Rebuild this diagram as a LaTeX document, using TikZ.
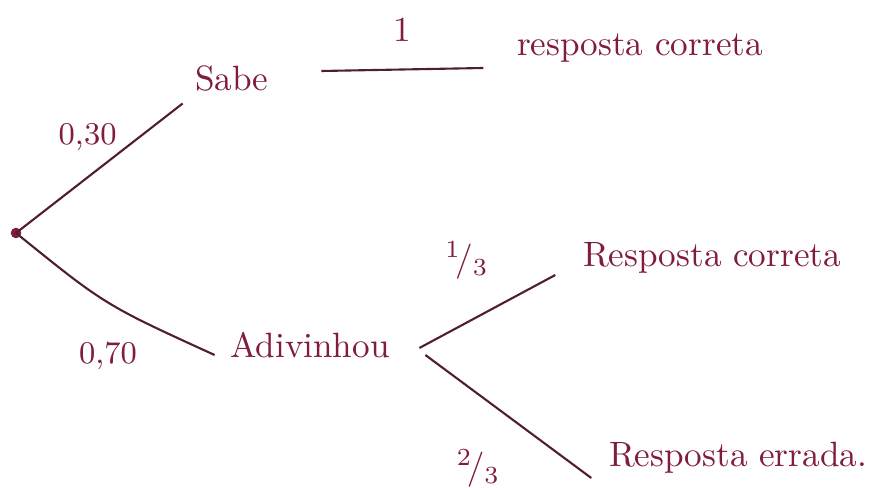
\documentclass[tikz,border=0pt]{standalone}
\usetikzlibrary{positioning}
\definecolor{tinta}{RGB}{128,28,62}
\definecolor{traco}{RGB}{80,30,45}
\begin{document}
\begin{tikzpicture}[x=0.01cm,y=-0.01cm,
  rotulo/.style={text=tinta,inner sep=2pt},
  prob/.style={text=tinta,font=\small},
  ramo/.style={draw=traco,line width=0.6pt}]
\useasboundingbox (0,0) rectangle (887,488);
\coordinate (O) at (16,233);
\fill[tinta] (O) circle (1.5pt);
\node[rotulo] (sabe) at (232,78) {Sabe};
\node[rotulo] (rc1) at (640,48) {resposta correta};
\node[rotulo] (adiv) at (310,345) {Adivinhou};
\node[rotulo] (rc2) at (712,258) {Resposta correta};
\node[rotulo] (re) at (738,458) {Resposta errada.};
\draw[ramo] (O) -- ([shift={(-5,5)}]sabe.south west) node[prob,midway,above left=0.05cm and -0.3cm]{0,30};
\draw[ramo] ([shift={(45,-7)}]sabe.east) -- ([shift={(-26,20)}]rc1.west) node[rotulo,midway,above=0.2cm]{1};
\draw[ramo] (O) .. controls (105,305) .. ([shift={(-8,10)}]adiv.west) node[prob,pos=0.6,below=0.18cm,xshift=-0.15cm]{0,70};
\draw[ramo] ([shift={(22,3)}]adiv.east) -- ([shift={(-20,17)}]rc2.west) node[rotulo,pos=0.35,above=0.35cm]{$^1\!/_3$};
\draw[ramo] ([shift={(28,10)}]adiv.east) -- ([shift={(-10,20)}]re.west) node[rotulo,midway,below left=0.25cm and 0.0cm]{$^2\!/_3$};
\end{tikzpicture}
\end{document}
